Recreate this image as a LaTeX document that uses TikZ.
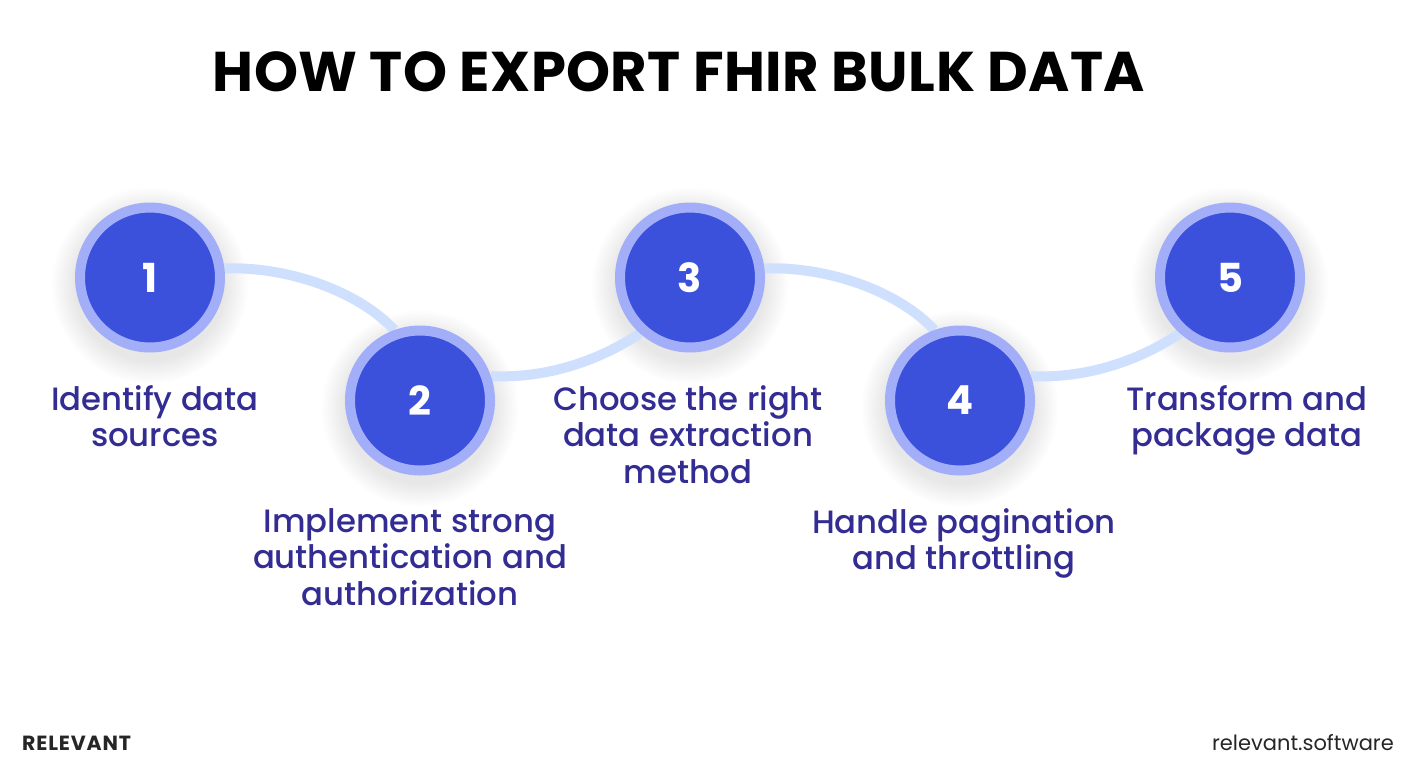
\documentclass[tikz,border=0pt]{standalone}
\usepackage{fontspec}
\setmainfont{Poppins}[BoldFont={Poppins Bold}]
\newfontfamily\medfont{Poppins Medium}
\newfontfamily\titlefont[LetterSpace=0.8]{Poppins Bold}
\newfontfamily\brandfont[LetterSpace=4]{Poppins Bold}
\usetikzlibrary{backgrounds}
\definecolor{ringc}{HTML}{A3AEF9}
\definecolor{discc}{HTML}{3B50DB}
\definecolor{linkc}{HTML}{CFE0FF}
\definecolor{labelc}{HTML}{332D93}
\tikzset{
  stepdisc/.style={circle,minimum size=140pt,inner sep=0pt,fill=discc,draw=ringc,line width=10pt,text=white,font=\bfseries\fontsize{40}{40}\selectfont},
  steplabel/.style={align=center,text=labelc,font=\medfont\fontsize{32.3}{36.5}\selectfont,anchor=north},
  linkline/.style={draw=linkc,line width=10pt}
}
\begin{document}
\begin{tikzpicture}[x=1pt,y=-1pt]
\useasboundingbox (0,0) rectangle (1417,772);
\node[stepdisc] (n1) at (150,277.5) {1};
\node[stepdisc] (n2) at (420,400.5) {2};
\node[stepdisc] (n3) at (690,277.5) {3};
\node[stepdisc] (n4) at (960,400.5) {4};
\node[stepdisc] (n5) at (1230,277.5) {5};
\begin{scope}[on background layer]
  \fill[white] (0,0) rectangle (1417,772);
  \foreach \c in {n1,n2,n3,n4,n5}{
    \foreach \r in {76,78,...,98}{
      \fill[black,opacity=0.009] ([yshift=-8pt]\c.center) circle (\r pt);
    }
  }
  \draw[linkline] (n1.7) .. controls +(65,-2) and +(-35,-38) .. (n2.110);
  \draw[linkline] (n2.19) .. controls +(60,3) and +(-35,24) .. (n3.228);
  \draw[linkline] (n3.7) .. controls +(65,-2) and +(-35,-38) .. (n4.110);
  \draw[linkline] (n4.19) .. controls +(60,3) and +(-35,24) .. (n5.228);
\end{scope}
\node[font=\titlefont\fontsize{56}{56}\selectfont,text=black] (title) at (679,72) {HOW TO EXPORT FHIR BULK DATA};
\node[steplabel] (l1) at (155,382) {Identify data\\sources};
\node[steplabel] (l2) at (410,505) {Implement strong\\authentication and\\authorization};
\node[steplabel] (l3) at (688,382) {Choose the right\\data extraction\\method};
\node[steplabel] (l4) at (964,505) {Handle pagination\\and throttling};
\node[steplabel] (l5) at (1247,382) {Transform and\\package data};
\node[font=\brandfont\fontsize{20.5}{20.5}\selectfont,text=black!85,anchor=west,inner sep=0pt] (brand) at (22,743) {RELEVANT};
\node[font=\fontsize{21}{21}\selectfont,text=black!85,anchor=east,inner sep=0pt] (site) at (1394,743) {relevant.software};
\end{tikzpicture}
\end{document}
